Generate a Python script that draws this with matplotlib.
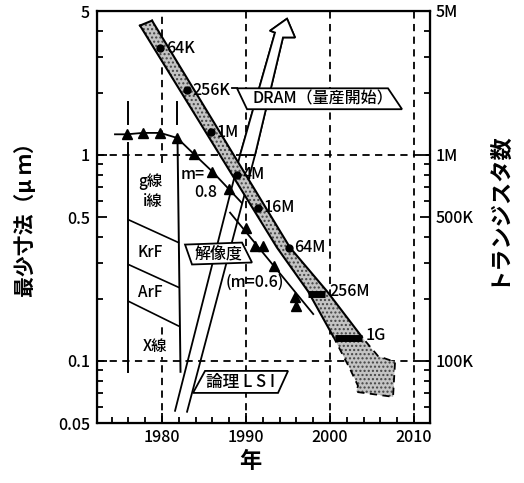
import matplotlib
matplotlib.use("Agg")
import matplotlib.pyplot as plt
from matplotlib.patches import Polygon
from matplotlib.ticker import FixedLocator, NullFormatter

plt.rcParams['font.family'] = ['Noto Sans CJK JP', 'DejaVu Sans']
plt.rcParams['font.weight'] = 'medium'

# DRAM 世代（量産開始）
dram_labels = ["64K", "256K", "1M", "4M", "16M", "64M"]
dram_years = [1979.8, 1983.0, 1985.8, 1988.9, 1991.4, 1995.1]
dram_size = [3.29, 2.06, 1.29, 0.80, 0.555, 0.355]

# 将来世代（太線で表示）
future_labels = ["256M", "1G"]
future_from = [1997.4, 2000.6]
future_to = [1999.4, 2003.8]
future_size = [0.211, 0.129]

# DRAM帯の輪郭（左縁 -> 矢じり -> 右縁）
band_left_x = [1977.38, 1993.69, 1997.38, 2000.36, 2002.38, 2003.33]
band_left_y = [4.25, 0.355, 0.218, 0.132, 0.0915, 0.0757]
head_x = [2003.10, 2007.50, 2007.74, 2005.71]
head_y = [0.0708, 0.0670, 0.0989, 0.1057]
band_right_x = [2003.81, 1999.64, 1995.24, 1978.81]
band_right_y = [0.1306, 0.218, 0.355, 4.49]

# 解像度 m=0.8
m08_years = [1974.4, 1975.8, 1977.7, 1979.8, 1981.8, 1983.8, 1986.0, 1988.0, 1989.5]
m08_size = [1.26, 1.26, 1.28, 1.28, 1.21, 1.01, 0.83, 0.68, 0.585]

# 解像度 m=0.6
m06_line_x = [1988.1, 1998.0]
m06_line_y = [0.525, 0.169]
m06_years = [1990.0, 1991.1, 1992.0, 1993.3, 1995.8, 1996.0]
m06_size = [0.44, 0.36, 0.36, 0.29, 0.205, 0.185]

# 論理LSI（トランジスタ数）の帯
lsi_left_x = [1981.55, 1989.29, 1993.45]
lsi_left_y = [0.0573, 1.0, 3.93]
lsi_head_x = [1992.86, 1994.88, 1995.83]
lsi_head_y = [4.01, 4.59, 3.72]
lsi_right_x = [1994.40, 1991.07, 1982.98]
lsi_right_y = [3.72, 1.0, 0.0567]

# 露光光源の区分
litho_left_x = 1976.0
litho_right_top_x = 1981.8
litho_right_bot_x = 1982.2
litho_top = [1.80, 1.41]
litho_body = [1.14, 0.0886]
litho_div_left = [0.485, 0.294, 0.195]
litho_div_right = [0.376, 0.228, 0.148]
litho_labels = ["g線", "i線", "KrF", "ArF", "X線"]
litho_lab_x = [1978.6, 1978.9, 1978.6, 1978.6, 1979.2]
litho_lab_y = [0.741, 0.593, 0.336, 0.216, 0.117]

DASH = (0, (4, 3))

fig = plt.figure(figsize=(5.24, 4.83), dpi=100)
ax = fig.add_axes([97 / 524, 1 - 423 / 483, 333 / 524, 412 / 483])
ax.set_yscale("log")
ax.set_xlim(1972.26, 2011.9)
ax.set_ylim(0.05, 5)

# 破線の格子
for yr in [1990, 2000, 2010]:
    ax.axvline(yr, color="k", lw=1.3, ls=DASH, zorder=1)
ax.plot([1980, 1980], [0.915, 5], color="k", lw=1.3, ls=DASH, zorder=1)
ax.plot([1980, 1980], [0.05, 0.154], color="k", lw=1.3, ls=DASH, zorder=1)
for v in [1, 0.1]:
    ax.axhline(v, color="k", lw=1.3, ls=DASH, zorder=1)

# 露光光源
ax.plot([litho_left_x] * 2, litho_top, color="k", lw=1.4, zorder=2)
ax.plot([litho_left_x] * 2, litho_body, color="k", lw=1.4, zorder=2)
ax.plot([litho_right_top_x] * 2, litho_top, color="k", lw=1.4, zorder=2)
ax.plot([litho_right_top_x + 0.05, litho_right_bot_x], litho_body, color="k", lw=1.4, zorder=2)
for yl, yr_ in zip(litho_div_left, litho_div_right):
    ax.plot([litho_left_x, litho_right_top_x + 0.15], [yl, yr_], color="k", lw=1.2, zorder=2)
for lab, x, y in zip(litho_labels, litho_lab_x, litho_lab_y):
    ax.text(x, y, lab, ha="center", va="center", fontsize=11, zorder=3,
            bbox=dict(facecolor="white", edgecolor="none", pad=1))

# 論理LSIの矢印
lsi_x = lsi_left_x + lsi_head_x + lsi_right_x
lsi_y = lsi_left_y + lsi_head_y + lsi_right_y
ax.plot(lsi_x, lsi_y, color="k", lw=1.3, zorder=2)
ax.add_patch(Polygon(list(zip(lsi_x[1:-1], lsi_y[1:-1])), closed=True,
                     facecolor="white", edgecolor="k", lw=1.3, zorder=2))

# 解像度の曲線
ax.plot(m08_years, m08_size, color="k", lw=1.3, zorder=3)
ax.plot(m08_years[1:-1], m08_size[1:-1], ls="none", marker="^", ms=6.5, color="k", zorder=3)
ax.plot(m06_line_x, m06_line_y, color="k", lw=1.3, zorder=3)
ax.plot(m06_years, m06_size, ls="none", marker="^", ms=6.5, color="k", zorder=3)
ax.text(1983.6, 0.80, "m=", ha="center", va="center", fontsize=11.5, zorder=3)
ax.text(1985.2, 0.655, "0.8", ha="center", va="center", fontsize=11.5, zorder=3)
ax.text(1991.1, 0.241, "(m=0.6)", ha="center", va="center", fontsize=11.5, zorder=3)

# ラベル枠
def label_box(pts, text, tx, ty, z, size):
    ax.add_patch(Polygon(pts, closed=True, facecolor="white", edgecolor="k", lw=1.3, zorder=z))
    ax.text(tx, ty, text, ha="center", va="center", fontsize=size, zorder=z + 0.1)

label_box([(1982.74, 0.3674), (1983.57, 0.2941), (1990.71, 0.3007), (1989.52, 0.3757)],
          "解像度", 1986.7, 0.3325, 4, 11.5)
label_box([(1985.12, 0.0895), (1995.0, 0.0895), (1993.81, 0.0700), (1983.69, 0.0700)],
          "論理 L S I", 1989.3, 0.0792, 4, 12)

# DRAM帯
band_x = band_left_x + head_x + band_right_x
band_y = band_left_y + head_y + band_right_y
ax.add_patch(Polygon(list(zip(band_x, band_y)), closed=True, facecolor="#c4c4c4",
                     edgecolor="#444444", hatch="....", lw=0, zorder=5))
ax.plot(band_left_x[:4], band_left_y[:4], color="k", lw=1.5, zorder=5.5)
ax.plot(band_left_x[3:] + head_x + band_right_x[:1], band_left_y[3:] + head_y + band_right_y[:1],
        color="k", lw=1.3, ls=DASH, zorder=5.5)
ax.plot(band_right_x, band_right_y, color="k", lw=1.5, zorder=5.5)
ax.plot([band_left_x[0], band_right_x[-1]], [band_left_y[0], band_right_y[-1]], color="k", lw=1.5, zorder=5.5)
ax.plot(dram_years, dram_size, ls="none", marker="o", ms=5, color="k", zorder=6)
for lab, x, y in zip(dram_labels, dram_years, dram_size):
    ax.annotate(lab, (x, y), xytext=(4, 0), textcoords="offset points",
                ha="left", va="center", fontsize=11.5, zorder=6)
for lab, x0, x1, y in zip(future_labels, future_from, future_to, future_size):
    ax.plot([x0, x1], [y, y], color="k", lw=5, solid_capstyle="butt", zorder=6)
    ax.annotate(lab, (x1, y), xytext=(3, 2), textcoords="offset points",
                ha="left", va="center", fontsize=11.5, zorder=6)

# DRAM（量産開始）の枠
ax.plot([1988.33, 1988.93], [2.107, 2.107], color="k", lw=1.3, zorder=7)
label_box([(1988.93, 2.107), (2006.9, 2.107), (2008.57, 1.668), (1990.12, 1.668)],
          "DRAM（量産開始）", 1999.2, 1.864, 7, 11.5)

# 軸
for s in ax.spines.values():
    s.set_linewidth(1.6)
ax.xaxis.set_major_locator(FixedLocator([1980, 1990, 2000, 2010]))
ax.xaxis.set_minor_locator(FixedLocator(list(range(1974, 2012, 2))))
ax.yaxis.set_major_locator(FixedLocator([0.05, 0.1, 0.5, 1, 5]))
ax.yaxis.set_major_formatter(plt.FixedFormatter(["0.05", "0.1", "0.5", "1", "5"]))
ax.yaxis.set_minor_locator(FixedLocator([0.06, 0.07, 0.08, 0.09, 0.2, 0.3, 0.4,
                                         0.6, 0.7, 0.8, 0.9, 2, 3, 4]))
ax.yaxis.set_minor_formatter(NullFormatter())
ax.tick_params(which="both", direction="in", width=1.3, labelsize=11.5)
ax.tick_params(which="major", length=7)
ax.tick_params(which="minor", length=4)
ax.tick_params(axis="x", pad=4)
ax.tick_params(axis="y", pad=5)

ax2 = ax.twinx()
ax2.set_yscale("log")
ax2.set_ylim(0.05, 5)
ax2.yaxis.set_major_locator(FixedLocator([0.1, 0.5, 1, 5]))
ax2.yaxis.set_major_formatter(plt.FixedFormatter(["100K", "500K", "1M", "5M"]))
ax2.yaxis.set_minor_locator(FixedLocator([0.06, 0.07, 0.08, 0.09, 0.2, 0.3, 0.4,
                                          0.6, 0.7, 0.8, 0.9, 2, 3, 4]))
ax2.yaxis.set_minor_formatter(NullFormatter())
ax2.tick_params(which="both", direction="in", width=1.3, labelsize=11.5, pad=4)
ax2.tick_params(which="major", length=7)
ax2.tick_params(which="minor", length=4)

fig.text(25 / 524, 1 - 215 / 483, "最少寸法（μ ｍ）", rotation=90, ha="center", va="center",
         fontsize=15, fontweight="bold")
fig.text(497 / 524, 1 - 208 / 483, "トランジスタ数", rotation=90, ha="center", va="center",
         fontsize=16, fontweight="bold")
fig.text(250 / 524, 1 - 462 / 483, "年", ha="center", va="center", fontsize=16, fontweight="bold")

fig.savefig("out.png", dpi=100)
